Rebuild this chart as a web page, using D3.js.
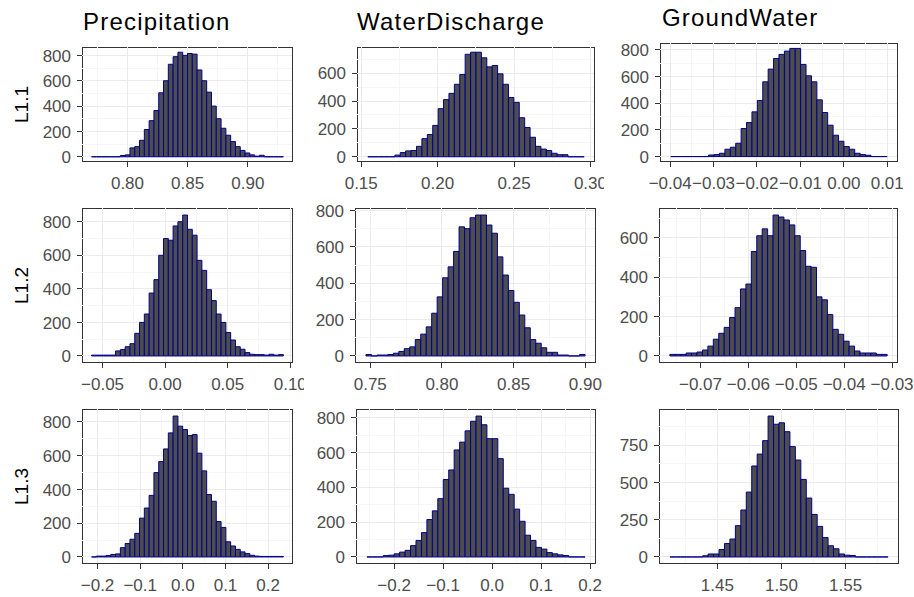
<!DOCTYPE html>
<html>
<head>
<meta charset="utf-8">
<script src="https://cdn.jsdelivr.net/npm/d3@7"></script>
<style>
  body { margin: 0; background: #fff; }
  text { font-family: "Liberation Sans", Arial, sans-serif; }
</style>
</head>
<body>
<div class="graph"></div>
<script>
// variables (columns) and parameters (rows)
const columns = ['Precipitation', 'WaterDischarge', 'GroundWater'];
const rows = ['L1.1', 'L1.2', 'L1.3'];

// left edge of the first bin and bin width, [row][col], 40 bins each
const binStarts = [
    [0.7702, 0.1543, -0.03985],
    [-0.05875, 0.7470, -0.07639],
    [-0.2140, -0.2556, 1.4130]
];
const binWidths = [
    [0.003983, 0.00354, 0.001246],
    [0.003832, 0.00382, 0.001134],
    [0.011245, 0.011136, 0.004253]
];

// bin counts
const precipL11 = [0,0,0,0,0,0,10,15,70,80,130,215,285,365,505,600,730,790,825,800,815,810,685,600,510,400,300,225,170,120,80,50,30,15,5,12,0,0,0,0];
const dischargeL11 = [0,0,0,0,0,12,30,42,45,75,130,160,225,345,410,455,520,590,735,750,750,710,645,655,595,520,425,390,280,210,140,75,55,45,25,15,15,0,0,0];
const groundL11 = [0,0,0,0,0,0,0,12,15,25,55,70,100,210,255,335,420,560,655,735,765,790,810,810,690,605,560,425,330,235,160,115,75,55,25,15,10,0,0,0];
const precipL12 = [5,5,5,5,5,30,38,55,73,135,200,250,375,455,600,700,690,775,800,840,755,720,570,510,395,330,250,200,140,95,55,40,20,10,8,8,5,10,5,8];
const dischargeL12 = [8,0,5,5,8,15,25,40,50,90,120,160,235,325,430,490,575,710,700,760,775,775,720,675,545,445,360,295,225,155,90,70,45,20,20,5,5,0,0,8];
const groundL12 = [8,8,8,15,15,20,30,50,85,115,145,195,245,340,365,530,610,645,610,715,705,690,665,610,535,455,450,300,285,210,135,110,75,50,25,15,15,15,8,8];
const precipL13 = [0,5,5,8,15,18,55,80,105,140,230,290,365,500,565,640,735,835,775,755,720,725,615,510,370,330,210,175,90,65,45,30,20,10,5,3,3,3,3,3];
const dischargeL13 = [0,0,0,8,10,18,28,38,65,95,140,215,265,335,445,500,615,660,725,780,810,760,680,680,565,395,360,275,205,125,95,55,45,25,18,12,8,0,0,0];
const groundL13 = [0,0,0,0,0,0,8,20,20,50,90,120,210,315,435,610,690,780,945,890,900,840,740,650,520,395,285,205,130,75,55,20,12,10,0,0,0,0,0,0];

const counts = [
    [precipL11, dischargeL11, groundL11],
    [precipL12, dischargeL12, groundL12],
    [precipL13, dischargeL13, groundL13]
];

// tick labels
const xTicks = [
    [[0.80, 0.85, 0.90], [0.15, 0.20, 0.25, 0.30], [-0.04, -0.03, -0.02, -0.01, 0.00, 0.01]],
    [[-0.05, 0.00, 0.05, 0.10], [0.75, 0.80, 0.85, 0.90], [-0.07, -0.06, -0.05, -0.04, -0.03]],
    [[-0.2, -0.1, 0.0, 0.1, 0.2], [-0.2, -0.1, 0.0, 0.1, 0.2], [1.45, 1.50, 1.55]]
];
const xDigits = [[2, 2, 2], [2, 2, 2], [1, 1, 2]];
const yTicks = [
    [[0, 200, 400, 600, 800], [0, 200, 400, 600], [0, 200, 400, 600, 800]],
    [[0, 200, 400, 600, 800], [0, 200, 400, 600, 800], [0, 200, 400, 600]],
    [[0, 200, 400, 600, 800], [0, 200, 400, 600, 800], [0, 250, 500, 750]]
];

// panel boxes in pixels
const boxes = [
    [{x0: 82, y0: 47, x1: 293, y1: 162}, {x0: 357, y0: 47, x1: 595, y1: 162}, {x0: 660, y0: 43, x1: 898, y1: 162}],
    [{x0: 82, y0: 208, x1: 293, y1: 363}, {x0: 355, y0: 208, x1: 596, y1: 363}, {x0: 659, y0: 208, x1: 898, y1: 363}],
    [{x0: 82, y0: 409, x1: 293, y1: 564}, {x0: 356, y0: 409, x1: 596, y1: 564}, {x0: 659, y0: 409, x1: 899, y1: 564}]
];
const colClip = [[0, 304], [304, 604], [604, 914]];
const titleX = [83, 357, 662];
const titleY = [30, 30, 26];

const width = 914, height = 597;
const svg = d3.select('.graph')
    .append('svg')
    .attr('width', width)
    .attr('height', height);

const defs = svg.append('defs');
colClip.forEach((c, j) => {
    defs.append('clipPath').attr('id', `col${j}`)
        .append('rect')
        .attr('x', c[0]).attr('y', 0)
        .attr('width', c[1] - c[0]).attr('height', height);
});

const cols = colClip.map((c, j) => svg.append('g').attr('clip-path', `url(#col${j})`));

function minorOf(ticks, domain) {
    const step = ticks[1] - ticks[0];
    const out = [];
    for (let k = -1; k < ticks.length; k++) {
        const v = ticks[0] + (k + 0.5) * step;
        if (v > domain[0] && v < domain[1]) out.push(v);
    }
    return out;
}

function plot(g, box, data, start, binW, xt, yt, digits) {
    const lo = start, hi = start + data.length * binW, pad = (hi - lo) * 0.05;
    const xScale = d3.scaleLinear().domain([lo - pad, hi + pad]).range([box.x0, box.x1]);
    const yMax = d3.max(data);
    const yScale = d3.scaleLinear().domain([-0.05 * yMax, 1.05 * yMax]).range([box.y1, box.y0]);
    const px = v => Math.round(v - 0.5) + 0.5;

    g.append('rect')
        .attr('x', box.x0).attr('y', box.y0)
        .attr('width', box.x1 - box.x0).attr('height', box.y1 - box.y0)
        .attr('fill', '#fff');

    // border first, so grid lines break its top and left edges like the original
    g.append('rect')
        .attr('x', box.x0 + 0.5).attr('y', box.y0 + 0.5)
        .attr('width', box.x1 - box.x0 - 1).attr('height', box.y1 - box.y0 - 1)
        .attr('fill', 'none')
        .attr('stroke', '#333333');

    const grid = [
        {v: minorOf(xt, xScale.domain()), h: minorOf(yt, yScale.domain()), c: '#F6F6F6'},
        {v: xt, h: yt, c: '#EBEBEB'}
    ];
    grid.forEach(gr => {
        g.selectAll(null).data(gr.v).enter().append('line')
            .attr('x1', d => px(xScale(d))).attr('x2', d => px(xScale(d)))
            .attr('y1', box.y0).attr('y2', box.y1 - 1)
            .attr('stroke', gr.c);
        g.selectAll(null).data(gr.h).enter().append('line')
            .attr('y1', d => px(yScale(d))).attr('y2', d => px(yScale(d)))
            .attr('x1', box.x0).attr('x2', box.x1 - 1)
            .attr('stroke', gr.c);
    });

    g.selectAll(null)
        .data(data)
        .enter()
        .append('path')
        .classed('bar', true)
        .attr('d', (d, i) => {
            const xa = xScale(start + i * binW), xb = xScale(start + (i + 1) * binW);
            const ya = yScale(0), yb = yScale(d);
            return `M${xa},${ya}V${yb}H${xb}V${ya}Z`;
        })
        .attr('fill', '#4D4D4D')
        .attr('stroke', '#00008B')
        .attr('stroke-width', 1);

    // y axis
    g.selectAll(null).data(yt).enter().append('line')
        .attr('x1', box.x0 - 5).attr('x2', box.x0)
        .attr('y1', d => px(yScale(d))).attr('y2', d => px(yScale(d)))
        .attr('stroke', '#333333');
    g.selectAll(null).data(yt).enter().append('text')
        .attr('x', box.x0 - 11)
        .attr('y', d => yScale(d))
        .attr('dy', '0.36em')
        .style('font-size', '17px')
        .style('text-anchor', 'end')
        .attr('fill', '#4D4D4D')
        .text(d => d);

    // x axis
    const fmt = d3.format(`.${digits}f`);
    g.selectAll(null).data(xt).enter().append('line')
        .attr('x1', d => px(xScale(d))).attr('x2', d => px(xScale(d)))
        .attr('y1', box.y1).attr('y2', box.y1 + 5)
        .attr('stroke', '#333333');
    g.selectAll(null).data(xt).enter().append('text')
        .attr('x', d => xScale(d))
        .attr('y', box.y1 + 27)
        .style('font-size', '17px')
        .style('text-anchor', 'middle')
        .attr('fill', '#4D4D4D')
        .text(d => fmt(d));
}

rows.forEach((r, i) => {
    columns.forEach((c, j) => {
        const panel = cols[j].append('g').classed('panel', true);
        plot(panel, boxes[i][j], counts[i][j], binStarts[i][j], binWidths[i][j],
            xTicks[i][j], yTicks[i][j], xDigits[i][j]);
    });
    const b = boxes[i][0];
    svg.append('text')
        .attr('transform', `translate(27.5, ${(b.y0 + b.y1) / 2}) rotate(-90)`)
        .style('font-size', '19px')
        .style('text-anchor', 'middle')
        .attr('fill', '#000')
        .text(r);
});

columns.forEach((c, j) => {
    svg.append('text')
        .attr('x', titleX[j])
        .attr('y', titleY[j])
        .style('font-size', '24px')
        .style('letter-spacing', '1.2px')
        .attr('fill', '#000')
        .text(c);
});
</script>
</body>
</html>
